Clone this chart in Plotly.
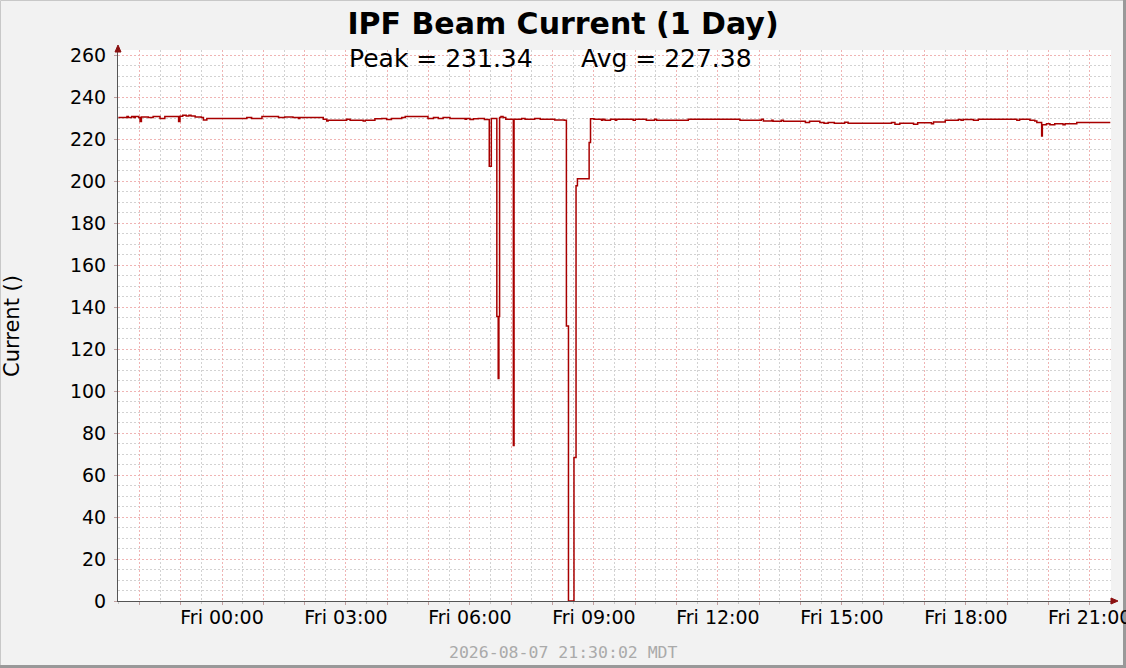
import plotly.graph_objects as go

# ---------------- data ----------------
times = [
    "2026-08-06 21:29:30", "2026-08-06 21:42", "2026-08-06 21:44", "2026-08-06 21:49",
    "2026-08-06 21:52", "2026-08-06 21:54", "2026-08-06 21:59", "2026-08-06 22:01",
    "2026-08-06 22:03", "2026-08-06 22:13", "2026-08-06 22:20", "2026-08-06 22:30",
    "2026-08-06 22:37", "2026-08-06 22:57", "2026-08-06 22:59", "2026-08-06 23:03",
    "2026-08-06 23:08", "2026-08-06 23:12", "2026-08-06 23:15", "2026-08-06 23:21",
    "2026-08-06 23:30", "2026-08-06 23:33", "2026-08-06 23:38",
    "2026-08-07 00:36", "2026-08-07 00:43", "2026-08-07 00:58", "2026-08-07 01:22",
    "2026-08-07 01:31", "2026-08-07 01:43", "2026-08-07 01:51", "2026-08-07 01:53",
    "2026-08-07 02:27", "2026-08-07 02:32", "2026-08-07 02:34", "2026-08-07 03:01",
    "2026-08-07 03:06", "2026-08-07 03:25", "2026-08-07 03:28", "2026-08-07 03:42",
    "2026-08-07 03:52", "2026-08-07 03:59", "2026-08-07 04:06", "2026-08-07 04:21",
    "2026-08-07 04:26", "2026-08-07 04:59", "2026-08-07 05:07", "2026-08-07 05:14",
    "2026-08-07 05:21", "2026-08-07 05:31", "2026-08-07 05:53", "2026-08-07 05:55",
    "2026-08-07 06:00", "2026-08-07 06:05", "2026-08-07 06:12", "2026-08-07 06:21",
    "2026-08-07 06:28", "2026-08-07 06:31", "2026-08-07 06:39", "2026-08-07 06:41",
    "2026-08-07 06:42", "2026-08-07 06:43", "2026-08-07 06:45", "2026-08-07 06:48",
    "2026-08-07 06:52", "2026-08-07 07:03", "2026-08-07 07:04", "2026-08-07 07:15",
    "2026-08-07 07:20", "2026-08-07 07:34", "2026-08-07 07:42", "2026-08-07 08:03",
    "2026-08-07 08:17", "2026-08-07 08:20", "2026-08-07 08:23", "2026-08-07 08:31",
    "2026-08-07 08:34", "2026-08-07 08:36", "2026-08-07 08:53", "2026-08-07 08:55",
    "2026-08-07 09:00", "2026-08-07 09:11", "2026-08-07 09:13", "2026-08-07 09:16",
    "2026-08-07 09:24", "2026-08-07 09:31", "2026-08-07 09:33", "2026-08-07 09:57",
    "2026-08-07 10:00", "2026-08-07 10:16", "2026-08-07 10:28", "2026-08-07 10:31",
    "2026-08-07 11:17", "2026-08-07 12:32", "2026-08-07 13:03", "2026-08-07 13:06",
    "2026-08-07 13:18", "2026-08-07 13:20", "2026-08-07 13:32", "2026-08-07 13:35",
    "2026-08-07 14:07", "2026-08-07 14:13", "2026-08-07 14:28", "2026-08-07 14:34",
    "2026-08-07 14:40", "2026-08-07 14:49", "2026-08-07 15:04", "2026-08-07 15:09",
    "2026-08-07 16:12", "2026-08-07 16:17", "2026-08-07 16:24", "2026-08-07 16:44",
    "2026-08-07 16:50", "2026-08-07 17:10", "2026-08-07 17:13", "2026-08-07 17:30",
    "2026-08-07 17:49", "2026-08-07 17:53", "2026-08-07 17:56", "2026-08-07 18:11",
    "2026-08-07 18:18", "2026-08-07 19:14", "2026-08-07 19:18", "2026-08-07 19:33",
    "2026-08-07 19:40", "2026-08-07 19:43", "2026-08-07 19:50", "2026-08-07 19:51",
    "2026-08-07 19:57", "2026-08-07 20:02", "2026-08-07 20:09", "2026-08-07 20:21",
    "2026-08-07 20:24", "2026-08-07 20:41", "2026-08-07 21:29:40",
]
current = [
    230.2, 230.7, 230.2, 230.7,
    230.2, 230.7, 230.2, 228.3,
    230.5, 230.2, 230.7, 229.8,
    230.7, 228.3, 230.9, 231.3,
    231.0, 231.3, 231.0, 230.5,
    230.2, 229.1, 229.8,
    230.2, 229.8, 230.7, 230.2,
    230.5, 230.2, 229.8, 230.2,
    229.4, 228.6, 229.0, 229.4,
    229.0, 228.6, 229.0, 229.6,
    229.8, 229.3, 229.8, 230.2,
    230.7, 229.8, 230.2, 229.8,
    230.2, 229.8, 229.4, 229.8,
    229.3, 229.6, 229.8, 229.3,
    207.0, 229.8, 135.5, 106.0,
    135.5, 230.2, 230.7, 230.2,
    229.4, 74.0, 229.4, 229.8,
    229.4, 229.8, 229.4, 229.1,
    228.9, 131.0, 0.0, 68.3,
    197.7, 201.1, 218.3, 229.6,
    229.4, 229.0, 229.4, 229.0,
    229.4, 229.0, 229.4, 229.0,
    229.4, 229.0, 229.4, 229.0,
    229.4, 229.0, 229.4, 228.6,
    229.0, 228.5, 229.0, 228.5,
    227.9, 228.5, 227.9, 227.5,
    227.9, 227.5, 228.0, 227.5,
    227.9, 227.0, 227.5, 227.0,
    227.7, 227.3, 228.1, 229.0,
    229.3, 229.0, 229.3, 229.0,
    229.4, 229.0, 229.4, 229.0,
    228.6, 227.9, 221.5, 226.8,
    227.3, 226.8, 227.3, 226.8,
    227.3, 227.9, 227.9,
]

hour_ticks = [
    "2026-08-06 22:00", "2026-08-06 23:00", "2026-08-07 00:00", "2026-08-07 01:00",
    "2026-08-07 02:00", "2026-08-07 03:00", "2026-08-07 04:00", "2026-08-07 05:00",
    "2026-08-07 06:00", "2026-08-07 07:00", "2026-08-07 08:00", "2026-08-07 09:00",
    "2026-08-07 10:00", "2026-08-07 11:00", "2026-08-07 12:00", "2026-08-07 13:00",
    "2026-08-07 14:00", "2026-08-07 15:00", "2026-08-07 16:00", "2026-08-07 17:00",
    "2026-08-07 18:00", "2026-08-07 19:00", "2026-08-07 20:00", "2026-08-07 21:00",
]
labelled_ticks = {
    "2026-08-07 00:00": "Fri 00:00", "2026-08-07 03:00": "Fri 03:00",
    "2026-08-07 06:00": "Fri 06:00", "2026-08-07 09:00": "Fri 09:00",
    "2026-08-07 12:00": "Fri 12:00", "2026-08-07 15:00": "Fri 15:00",
    "2026-08-07 18:00": "Fri 18:00", "2026-08-07 21:00": "Fri 21:00",
}
# the last label runs off the page edge (as in the original), so it is drawn as an annotation
edge_tick = "2026-08-07 21:00"
hour_text = [labelled_ticks.get(t, "") if t != edge_tick else "" for t in hour_ticks]

title_text = "<b>IPF Beam Current (1 Day)</b>"
peak_text = "Peak = 231.34"
avg_text = "Avg = 227.38"
stamp_text = "2026-08-07 21:30:02 MDT"
y_title = "Current ()"

# ---------------- layout geometry (pixels) ----------------
W, H = 1126, 668
L, R, T, B = 118, 15, 50, 67
PW, PH = W - L - R, H - T - B


def px(xp):
    return (xp - L) / PW


def py(yp):
    return (H - B - yp) / PH


FONT = "DejaVu Sans"
PINK = "#f0b4b4"
GREY = "#d2d2d2"
TICK_SIZE = 19

fig = go.Figure()
fig.add_trace(go.Scatter(
    x=times, y=current, mode="lines",
    line=dict(color="#a80000", width=1.5, shape="hv"),
    hoverinfo="skip", showlegend=False,
))

fig.update_layout(
    width=W, height=H,
    margin=dict(l=L, r=R, t=T, b=B, pad=0, autoexpand=False),
    paper_bgcolor="#f2f2f2", plot_bgcolor="#ffffff",
    font=dict(family=FONT, size=18, color="#000000"),
    title=dict(text=title_text, x=0.5, xref="container", xanchor="center",
               y=1 - 23 / H, yref="container", yanchor="middle",
               font=dict(family=FONT, size=30, color="#000000")),
    showlegend=False,
    hovermode=False,
)

fig.update_xaxes(
    type="date",
    range=["2026-08-06 21:29:00", "2026-08-07 21:30:40"],
    tickmode="array", tickvals=hour_ticks, ticktext=hour_text,
    showgrid=True, gridcolor=PINK, griddash="2px,2px", gridwidth=1,
    ticks="outside", ticklen=3, tickcolor="#c0a0a0", ticklabelstandoff=-4,
    minor=dict(dtick=30 * 60 * 1000, tick0="2026-08-06 21:30", showgrid=True,
               gridcolor=GREY, griddash="2px,2px", ticks="outside", ticklen=2,
               tickcolor="#c8c8c8"),
    showline=True, linecolor="#555555", linewidth=1,
    zeroline=False, tickfont=dict(family=FONT, size=TICK_SIZE, color="#000000"),
    fixedrange=True,
)
fig.update_yaxes(
    range=[0, 262.4], tick0=0, dtick=20,
    showgrid=True, gridcolor=PINK, griddash="2px,2px", gridwidth=1,
    ticks="outside", ticklen=3, tickcolor="#c0a0a0", ticklabelstandoff=4,
    minor=dict(dtick=5, showgrid=True, gridcolor=GREY, griddash="2px,2px"),
    showline=True, linecolor="#555555", linewidth=1,
    zeroline=False, tickfont=dict(family=FONT, size=TICK_SIZE, color="#000000"),
    fixedrange=True,
)

annotations = [
    dict(text=peak_text, x=px(347), y=py(59), xanchor="left", yanchor="middle",
         font=dict(family=FONT, size=25, color="#000000")),
    dict(text=avg_text, x=px(579), y=py(59), xanchor="left", yanchor="middle",
         font=dict(family=FONT, size=25, color="#000000")),
    dict(text=y_title, x=px(12), y=py(326), xanchor="center", yanchor="middle",
         textangle=-90, font=dict(family=FONT, size=21, color="#000000")),
    dict(text=stamp_text, x=px(563), y=py(652), xanchor="center", yanchor="middle",
         font=dict(family="DejaVu Sans Mono", size=16.5, color="#aaaaaa")),
]
for a in annotations:
    a.update(xref="paper", yref="paper", showarrow=False)
annotations.append(dict(
    text=labelled_ticks[edge_tick], x=edge_tick, xref="x", y=py(601), yref="paper",
    xanchor="center", yanchor="top", yshift=-3, showarrow=False,
    font=dict(family=FONT, size=TICK_SIZE, color="#000000"),
))
fig.update_layout(annotations=annotations)

shapes = [
    # outer border
    dict(type="rect", x0=px(0.5), x1=px(W - 0.5), y0=py(H - 0.5), y1=py(0.5),
         line=dict(color="#c8c8c8", width=1)),
    dict(type="line", x0=px(W - 1.5), x1=px(W - 1.5), y0=py(H), y1=py(0),
         line=dict(color="#999999", width=3)),
    dict(type="line", x0=px(0), x1=px(W), y0=py(H - 1.5), y1=py(H - 1.5),
         line=dict(color="#999999", width=3)),
    # axis arrows
    dict(type="path",
         path=f"M {px(L)},{py(45)} L {px(L - 3)},{py(52)} L {px(L + 3)},{py(52)} Z",
         fillcolor="#8b1010", line=dict(color="#8b1010", width=1)),
    dict(type="path",
         path=f"M {px(1118)},{py(H - B)} L {px(1111)},{py(H - B - 3)} L {px(1111)},{py(H - B + 3)} Z",
         fillcolor="#8b1010", line=dict(color="#8b1010", width=1)),
]
for s in shapes:
    s.update(xref="paper", yref="paper", layer="above")
fig.update_layout(shapes=shapes)

fig.write_html(
    "out.html",
    config={"displayModeBar": False},
    post_script="document.body.style.margin='0';document.body.style.overflow='hidden';",
)
